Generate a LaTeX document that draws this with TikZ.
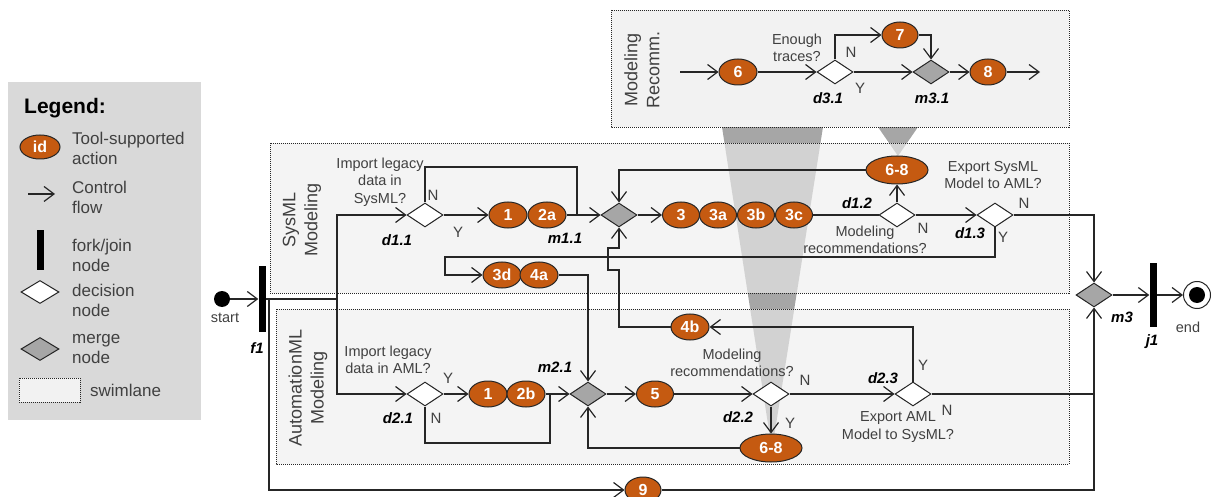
\documentclass[tikz,border=0pt]{standalone}
\usepackage{fontspec}
\setmainfont{Liberation Sans}
\usetikzlibrary{shapes.geometric,arrows.meta}
\definecolor{actfill}{HTML}{C55A11}
\definecolor{legfill}{HTML}{D9D9D9}
\definecolor{lanefill}{HTML}{EDEDED}
\definecolor{boxfill}{HTML}{F2F2F2}
\definecolor{beamgray}{HTML}{A6A6A6}
\definecolor{mrgfill}{HTML}{A6A6A6}
\definecolor{ink}{HTML}{262626}
\definecolor{txt}{HTML}{404040}
\begin{document}
\begin{tikzpicture}[x=1pt,y=-1pt,
  flow/.style={draw=ink,line width=1.2pt},
  arr/.style={flow,-{Straight Barb[length=10pt,width=15pt]}},
  act/.style={ellipse,draw=ink,line width=1pt,fill=actfill,text=white,
    font=\bfseries\fontsize{16}{16}\selectfont,minimum width=38pt,minimum height=26pt,inner sep=0pt},
  wideact/.style={act,minimum width=62pt,minimum height=28pt},
  dec/.style={diamond,draw=ink,line width=1pt,fill=white,minimum width=36pt,minimum height=24pt,inner sep=0pt},
  mrg/.style={dec,fill=mrgfill},
  bar/.style={rectangle,fill=black,minimum width=7pt,minimum height=66pt,inner sep=0pt},
  lbl/.style={text=txt,font=\fontsize{14.5}{17.5}\selectfont,align=center,inner sep=0pt},
  yn/.style={text=txt,font=\fontsize{15}{15}\selectfont,inner sep=0pt},
  nid/.style={text=black,font=\bfseries\itshape\fontsize{15}{15}\selectfont,inner sep=0pt},
  lanebox/.style={draw=ink,line width=0.9pt,dash pattern=on 1pt off 1pt},
  lanetitle/.style={rotate=90,text=txt,font=\fontsize{18}{22}\selectfont,align=center,inner sep=0pt},
  legtxt/.style={anchor=west,text=txt,font=\fontsize{17}{20}\selectfont,align=left,inner sep=0pt},
]
\clip (0,0) rectangle (1213,497);

% ---------- legend ----------
\path[fill=legfill] (8,82) rectangle (201,420);
\node[anchor=west,inner sep=0pt,font=\bfseries\fontsize{21}{21}\selectfont,text=black] (legtitle) at (24,108) {Legend:};
\node[act,minimum width=40pt,minimum height=24pt] (lgact) at (40,147) {id};
\node[legtxt] (lgt1) at (72,148) {Tool-supported\\action};
\coordinate (lgA) at (28,194);
\coordinate (lgB) at (55,194);
\draw[arr] (lgA) -- (lgB);
\node[legtxt] (lgt2) at (72,197) {Control\\flow};
\node[bar,minimum height=40pt] (lgbar) at (40,250) {};
\node[legtxt] (lgt3) at (72,255) {fork/join\\node};
\node[dec,minimum width=38pt,minimum height=23pt] (lgdec) at (40,292) {};
\node[legtxt] (lgt4) at (72,300) {decision\\node};
\node[mrg,minimum width=38pt,minimum height=23pt] (lgmrg) at (40,349) {};
\node[legtxt] (lgt5) at (72,349) {merge\\node};
\path[fill=boxfill,lanebox] (19,378) rectangle (80,402);
\node[legtxt] (lgt6) at (90,390) {swimlane};

% ---------- focus beams from the recommendation lane ----------
\fill[beamgray] (722,127) -- (823,127) -- (772,450) -- cycle;
\fill[beamgray] (878,127) -- (918,127) -- (898,156) -- cycle;

% ---------- swimlanes ----------
\path[fill=boxfill,lanebox] (611,10) rectangle (1069,127);
\path[fill=lanefill,fill opacity=0.63,lanebox] (270,143) rectangle (1069,293);
\path[fill=lanefill,fill opacity=0.63,lanebox] (276,309) rectangle (1069,464);
\node[lanetitle] (ttrec) at (642,70) {Modeling\\Recomm.};
\node[lanetitle] (ttsys) at (302,220) {SysML\\Modeling};
\node[lanetitle] (ttaml) at (308,388) {AutomationML\\Modeling};

% ---------- recommendation lane ----------
\coordinate (r0) at (680,72);
\coordinate (r1) at (1040,72);
\node[act] (n6) at (738,72) {6};
\node[dec] (d31) at (835,72) {};
\node[act,minimum width=36pt] (n7) at (900,35) {7};
\node[mrg] (m31) at (931,72) {};
\node[act,minimum width=36pt] (n8) at (988,72) {8};
\node[lbl] (q31) at (797,48) {Enough\\traces?};
\node[yn] (y31n) at (851,52) {N};
\node[yn] (y31y) at (860,88) {Y};
\node[nid] (l31) at (828,98) {d3.1};
\node[nid] (lm31) at (932,98) {m3.1};
\draw[arr] (r0) -- (n6.west);
\draw[arr] (n6.east) -- (d31.west);
\draw[arr] (d31.north) |- (n7.west);
\draw[arr] (n7.east) -| (m31.north);
\draw[arr] (d31.east) -- (m31.west);
\draw[arr] (m31.east) -- (n8.west);
\draw[arr] (n8.east) -- (r1);

% ---------- start, fork ----------
\node[circle,fill=black,minimum size=16pt,inner sep=0pt] (start) at (222,299) {};
\node[lbl] (tstart) at (225,318) {start};
\node[bar] (f1) at (262,299) {};
\node[nid] (lf1) at (257,348) {f1};
\coordinate (s1) at (337,299);
\coordinate (s2) at (269,299);
\draw[arr] (start.east) -- (f1.west);
\draw[flow] (f1.east) -- (s1);

% ---------- SysML lane ----------
\node[dec] (d11) at (425,215) {};
\node[act] (n1s) at (508,215) {1};
\node[act] (n2a) at (547,215) {2a};
\node[mrg] (m11) at (619,215) {};
\node[act,minimum width=37pt] (n3) at (681,215) {3};
\node[act,minimum width=37pt] (n3a) at (718,215) {3a};
\node[act,minimum width=37pt] (n3b) at (756,215) {3b};
\node[act,minimum width=37pt] (n3c) at (794,215) {3c};
\node[dec] (d12) at (897,215) {};
\node[wideact] (n68a) at (897,170) {6-8};
\node[dec] (d13) at (995,215) {};
\node[act] (n3d) at (502,275) {3d};
\node[act] (n4a) at (539,275) {4a};

\node[lbl] (q11) at (380,182) {Import legacy\\data in\\SysML?};
\node[yn] (y11n) at (433,195) {N};
\node[yn] (y11y) at (458,232) {Y};
\node[nid] (l11) at (397,240) {d1.1};
\node[nid] (lm11) at (565,238) {m1.1};
\node[nid] (l12) at (857,203) {d1.2};
\node[lbl] (q12) at (865,240) {Modeling\\recommendations?};
\node[yn] (y12n) at (923,228) {N};
\node[lbl] (q13) at (993,175) {Export SysML\\Model to AML?};
\node[yn] (y13n) at (1024,203) {N};
\node[yn] (y13y) at (1003,237) {Y};
\node[nid] (l13) at (970,233) {d1.3};

\coordinate (c1) at (577,167);
\coordinate (c2) at (445,257);
\draw[arr] (s1) |- (d11.west);
\draw[flow] (d11.north) |- (c1) -- (c1 |- m11);
\draw[arr] (d11.east) -- (n1s.west);
\draw[arr] (n2a.east) -- (m11.west);
\draw[arr] (m11.east) -- (n3.west);
\draw[flow] (n3c.east) -- (d12.west);
\draw[arr] (d12.north) -- (n68a.south);
\draw[arr] (n68a.west) -| (m11.north);
\draw[arr] (d12.east) -- (d13.west);
\draw[arr] (d13.south) |- (c2) |- (n3d.west);

% ---------- AutomationML lane ----------
\node[dec] (d21) at (425,394) {};
\node[act] (n1a) at (488,394) {1};
\node[act] (n2b) at (526,394) {2b};
\node[mrg] (m21) at (588,394) {};
\node[act,minimum width=37pt] (n5) at (655,394) {5};
\node[dec] (d22) at (771,394) {};
\node[wideact] (n68b) at (771,448) {6-8};
\node[dec] (d23) at (913,394) {};
\node[act] (n4b) at (690,327) {4b};

\node[lbl] (q21) at (388,360) {Import legacy\\data in AML?};
\node[yn] (y21y) at (448,378) {Y};
\node[yn] (y21n) at (436,418) {N};
\node[nid] (l21) at (398,418) {d2.1};
\node[nid] (lm21) at (555,367) {m2.1};
\node[lbl] (q22) at (732,363) {Modeling\\recommendations?};
\node[yn] (y22n) at (805,380) {N};
\node[yn] (y22y) at (790,423) {Y};
\node[nid] (l22) at (738,417) {d2.2};
\node[nid] (l23) at (883,378) {d2.3};
\node[yn] (y23y) at (923,365) {Y};
\node[yn] (y23n) at (947,410) {N};
\node[lbl] (q23) at (898,427) {Export AML\\Model to SysML?};

\coordinate (c3) at (550,443);
\coordinate (h1) at (619,270);
\coordinate (h2) at (608,270);
\coordinate (h3) at (608,248);
\coordinate (h4) at (619,248);
\draw[arr] (s1) |- (d21.west);
\draw[arr] (d21.east) -- (n1a.west);
\draw[flow] (d21.south) |- (c3) -- (c3 |- m21);
\draw[arr] (n2b.east) -- (m21.west);
\draw[arr] (n4a.east) -| (m21.north);
\draw[arr] (n68b.west) -| (m21.south);
\draw[arr] (m21.east) -- (n5.west);
\draw[arr] (n5.east) -- (d22.west);
\draw[arr] (d22.south) -- (n68b.north);
\draw[arr] (d22.east) -- (d23.west);
\draw[arr] (d23.north) |- (n4b.east);
\draw[arr] (n4b.west) -| (h1) -- (h2) -- (h3) -- (h4) -- (m11.south);

% ---------- merge, join, end ----------
\node[mrg] (m3) at (1094,295) {};
\node[nid] (lm3) at (1122,317) {m3};
\node[bar,minimum height=64pt] (j1) at (1153,295) {};
\node[nid] (lj1) at (1152,342) {j1};
\node[circle,draw=ink,line width=1pt,fill=white,minimum size=27pt,inner sep=0pt] (endc) at (1197,295) {};
\node[circle,fill=black,minimum size=16pt,inner sep=0pt] (endin) at (endc) {};
\node[lbl] (tend) at (1188,327) {end};
\node[act,minimum width=36pt] (n9) at (643,490) {9};

\draw[arr] (d13.east) -| (m3.north);
\draw[flow] (d23.east) -- (d23.east -| m3);
\draw[arr] (s2) |- (n9.west);
\draw[arr] (n9.east) -| (m3.south);
\draw[arr] (m3.east) -- (j1.west);
\draw[arr] (j1.east) -- (endc.west);
\end{tikzpicture}
\end{document}
